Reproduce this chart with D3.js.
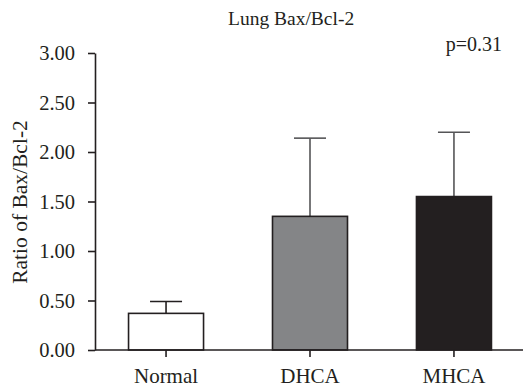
<!DOCTYPE html>
<html>
<head>
<meta charset="utf-8">
<script src="https://cdn.jsdelivr.net/npm/d3@7"></script>
<style>
  body { margin: 0; background: #fff; }
  svg text { font-family: "Liberation Serif", "Times New Roman", "DejaVu Serif", serif; fill: #231f20; }
</style>
</head>
<body>
<div class="chart"></div>
<script>
var groups = ['Normal', 'DHCA', 'MHCA'];
var means = [0.37, 1.35, 1.55];
var errors = [0.12, 0.79, 0.65];
var fills = ['#ffffff', '#848587', '#231f20'];
var yTicks = [0, 0.5, 1, 1.5, 2, 2.5, 3];

var width = 523, height = 387;
var serif = '"Liberation Serif", "Times New Roman", "DejaVu Serif", serif';

var svg = d3.select('.chart')
  .append('svg')
  .attr('width', width)
  .attr('height', height)
  .attr('font-family', serif);

var yScale = d3.scaleLinear()
  .domain([0, 3])
  .range([350, 53]);

var xScale = d3.scaleBand()
  .domain(groups)
  .range([95, 525])
  .paddingInner(0.479)
  .paddingOuter(0.233);

// error bars (upper only), drawn under the bars
var err = svg.selectAll('.err')
  .data(groups)
  .enter()
  .append('g')
  .attr('class', 'err')
  .style('stroke', (d, i) => i === 0 ? '#231f20' : '#555557')
  .style('stroke-width', 1.6);

err.append('line')
  .attr('x1', d => xScale(d) + xScale.bandwidth() / 2)
  .attr('x2', d => xScale(d) + xScale.bandwidth() / 2)
  .attr('y1', (d, i) => yScale(means[i]))
  .attr('y2', (d, i) => yScale(means[i] + errors[i]));

err.append('line')
  .attr('x1', d => xScale(d) + xScale.bandwidth() / 2 - 16)
  .attr('x2', d => xScale(d) + xScale.bandwidth() / 2 + 16)
  .attr('y1', (d, i) => yScale(means[i] + errors[i]))
  .attr('y2', (d, i) => yScale(means[i] + errors[i]));

svg.selectAll('.bar')
  .data(groups)
  .enter()
  .append('rect')
  .attr('class', 'bar')
  .attr('x', d => xScale(d))
  .attr('y', (d, i) => yScale(means[i]))
  .attr('width', xScale.bandwidth())
  .attr('height', (d, i) => yScale(0) - yScale(means[i]))
  .style('fill', (d, i) => fills[i])
  .style('stroke', '#231f20')
  .style('stroke-width', 1.6);

var yAxis = d3.axisLeft(yScale)
  .tickValues(yTicks)
  .tickFormat(d3.format('.2f'))
  .tickSize(7)
  .tickSizeOuter(0)
  .tickPadding(13);
var gy = svg.append('g')
  .attr('transform', 'translate(95, 0)')
  .call(yAxis);

var xAxis = d3.axisBottom(xScale)
  .tickSize(7)
  .tickSizeOuter(0)
  .tickPadding(11);
var gx = svg.append('g')
  .attr('transform', 'translate(0, 350)')
  .call(xAxis);
gx.select('.domain').attr('d', 'M95,0H523');

[gy, gx].forEach(g => {
  g.attr('font-family', serif).attr('font-size', 20.5);
  g.selectAll('path, line').style('stroke', '#231f20').style('stroke-width', 1.6);
  g.selectAll('text').style('fill', '#231f20');
});
gx.attr('font-size', 21);

svg.append('text')
  .attr('x', 228)
  .attr('y', 25)
  .attr('text-anchor', 'start')
  .attr('font-size', 19.5)
  .text('Lung Bax/Bcl-2');

svg.append('text')
  .attr('x', 502)
  .attr('y', 51)
  .attr('text-anchor', 'end')
  .attr('font-size', 20)
  .text('p=0.31');

svg.append('text')
  .attr('transform', 'translate(27, 202) rotate(-90)')
  .attr('text-anchor', 'middle')
  .attr('font-size', 21.5)
  .text('Ratio of Bax/Bcl-2');
</script>
</body>
</html>
